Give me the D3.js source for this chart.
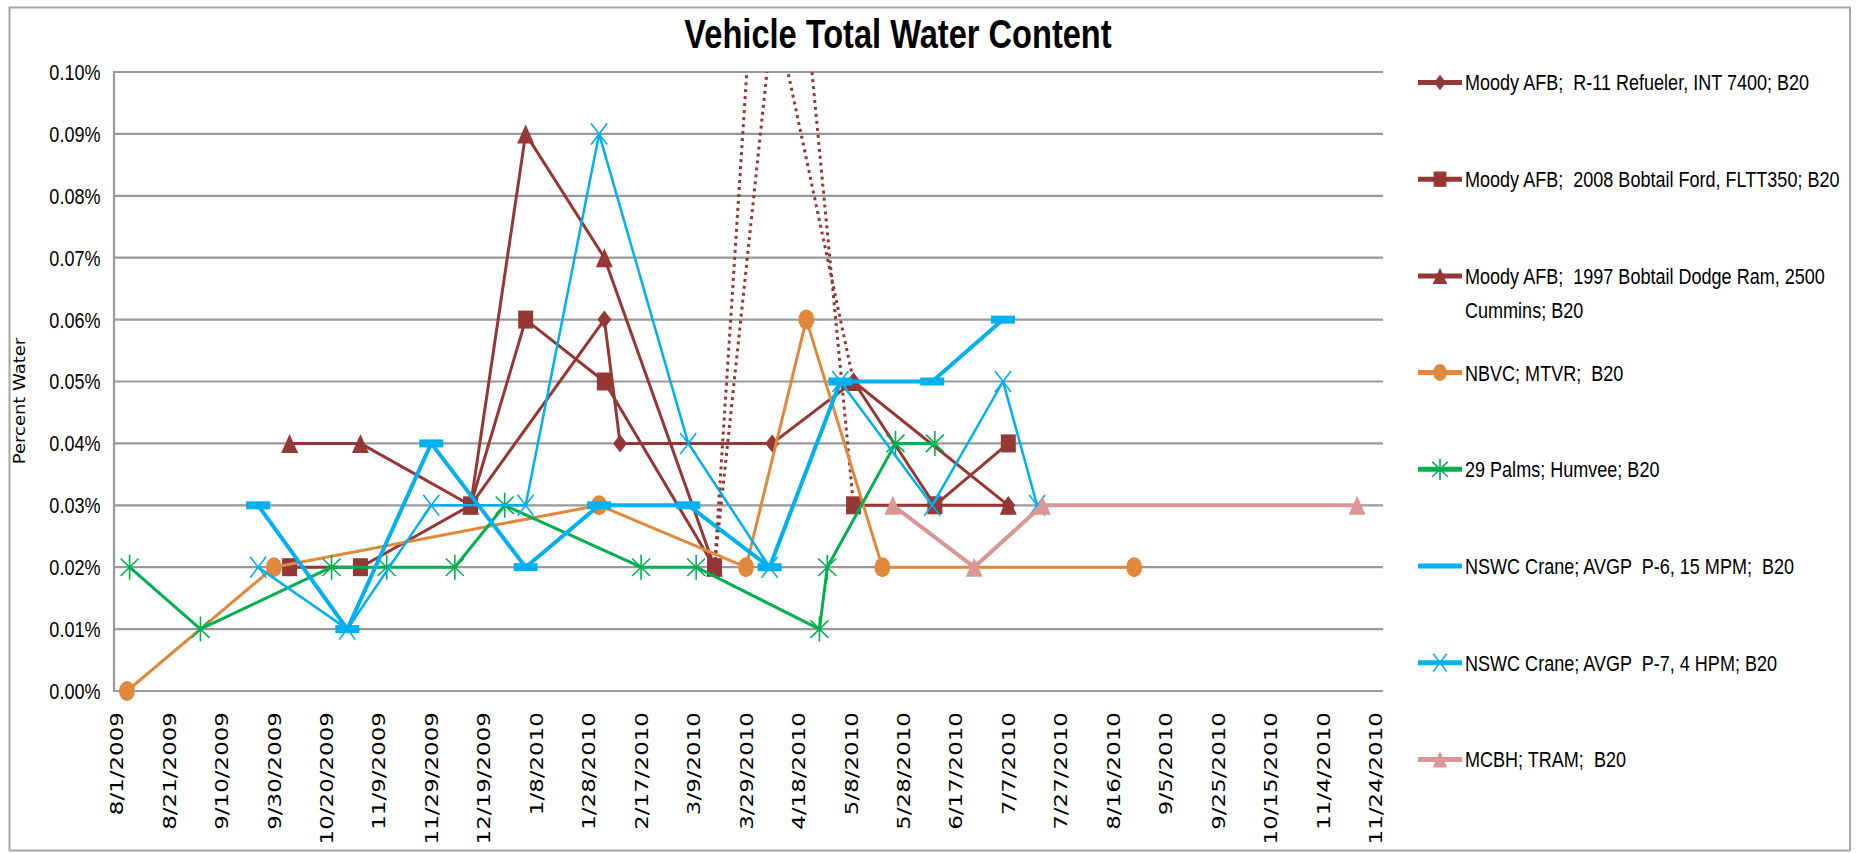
<!DOCTYPE html>
<html>
<head>
<meta charset="utf-8">
<title>Vehicle Total Water Content</title>
<script src="https://d3js.org/d3.v7.min.js"></script>
<style>
  body { margin: 0; background: #fff; }
  text { font-family: "Liberation Sans", Arial, sans-serif; white-space: pre; fill: #000; }
</style>
</head>
<body>
<script>
// ---- data (values in percent water) ----
var seriesNames = [
  "Moody AFB;  R-11 Refueler, INT 7400; B20",
  "Moody AFB;  2008 Bobtail Ford, FLTT350; B20",
  "Moody AFB;  1997 Bobtail Dodge Ram, 2500\nCummins; B20",
  "NBVC; MTVR;  B20",
  "29 Palms; Humvee; B20",
  "NSWC Crane; AVGP  P-6, 15 MPM;  B20",
  "NSWC Crane; AVGP  P-7, 4 HPM; B20",
  "MCBH; TRAM;  B20"
];

var r11Dates  = ["12/14/2009","2/3/2010","2/9/2010","4/8/2010","5/9/2010","6/9/2010","7/7/2010"];
var r11Values = [0.03, 0.06, 0.04, 0.04, 0.05, 0.03, 0.03];

var fordDates  = ["10/6/2009","11/2/2009","12/14/2009","1/4/2010","2/3/2010","3/17/2010","4/15/2010","5/9/2010","6/9/2010","7/7/2010"];
var fordValues = [0.02, 0.02, 0.03, 0.06, 0.05, 0.02, 0.136, 0.03, 0.03, 0.04];

var dodgeDates  = ["10/6/2009","11/2/2009","12/14/2009","1/4/2010","2/3/2010","3/17/2010","4/2/2010","5/9/2010","7/7/2010"];
var dodgeValues = [0.04, 0.04, 0.03, 0.09, 0.07, 0.02, 0.124, 0.05, 0.03];

var nbvcDates  = ["8/5/2009","9/30/2009","2/1/2010","3/29/2010","4/21/2010","5/20/2010","8/24/2010"];
var nbvcValues = [0.00, 0.02, 0.03, 0.02, 0.06, 0.02, 0.02];

var palmsDates  = ["8/6/2009","9/2/2009","10/22/2009","11/12/2009","12/8/2009","12/27/2009","2/17/2010","3/10/2010","4/26/2010","4/29/2010","5/25/2010","6/9/2010"];
var palmsValues = [0.02, 0.01, 0.02, 0.02, 0.02, 0.03, 0.02, 0.02, 0.01, 0.02, 0.04, 0.04];

var p6Dates  = ["9/24/2009","10/28/2009","11/29/2009","1/4/2010","2/1/2010","3/7/2010","4/7/2010","5/4/2010","6/8/2010","7/5/2010"];
var p6Values = [0.03, 0.01, 0.04, 0.02, 0.03, 0.03, 0.02, 0.05, 0.05, 0.06];

var p7Dates  = ["9/24/2009","10/28/2009","11/29/2009","1/4/2010","2/1/2010","3/7/2010","4/7/2010","5/4/2010","6/8/2010","7/5/2010","7/18/2010"];
var p7Values = [0.02, 0.01, 0.03, 0.03, 0.09, 0.04, 0.02, 0.05, 0.03, 0.05, 0.03];

var mcbhDates  = ["5/24/2010","6/24/2010","7/20/2010","11/17/2010"];
var mcbhValues = [0.03, 0.02, 0.03, 0.03];

var xTickLabels = ["8/1/2009","8/21/2009","9/10/2009","9/30/2009","10/20/2009","11/9/2009","11/29/2009",
  "12/19/2009","1/8/2010","1/28/2010","2/17/2010","3/9/2010","3/29/2010","4/18/2010","5/8/2010",
  "5/28/2010","6/17/2010","7/7/2010","7/27/2010","8/16/2010","9/5/2010","9/25/2010","10/15/2010",
  "11/4/2010","11/24/2010"];
var yTicks = [0, 0.01, 0.02, 0.03, 0.04, 0.05, 0.06, 0.07, 0.08, 0.09, 0.10];

// ---- styles ----
var seriesColors  = ["#953735","#953735","#953735","#E0893C","#00B050","#00B0F0","#00B0F0","#D99694"];
var seriesMarkers = ["diamond","square","triangle","circle","star","dash","x","triangle"];
var seriesWidths  = [3, 3, 3, 3, 3, 4, 2.5, 4];
var markerSize = {diamond:[14,18], square:[15,18], triangle:[17,19], circle:[16,20], star:[18,25], dash:[24,8], x:[16,21]};

var parseDate = d3.timeParse("%m/%d/%Y");
var seriesData = [
  [r11Dates, r11Values], [fordDates, fordValues], [dodgeDates, dodgeValues], [nbvcDates, nbvcValues],
  [palmsDates, palmsValues], [p6Dates, p6Values], [p7Dates, p7Values], [mcbhDates, mcbhValues]
].map(function(s) {
  return s[0].map(function(d, i) { return {date: parseDate(d), value: s[1][i]}; });
});

var W = 1856, H = 853;
var plot = {left: 114, right: 1383, top: 72, bottom: 691};
var yMax = 0.10;
var SQUISH = 0.82;   // text in the picture is narrow

var svg = d3.select("body").append("svg").attr("width", W).attr("height", H);

svg.append("rect")
  .attr("x", 9.5).attr("y", 7.5).attr("width", 1840.5).attr("height", 843)
  .attr("fill", "#fff").attr("stroke", "#a6a6a6").attr("stroke-width", 2);

var x = d3.scaleTime()
  .domain([parseDate(xTickLabels[0]), parseDate(xTickLabels[xTickLabels.length - 1])])
  .range([116.5, 1375.5]);
var y = d3.scaleLinear().domain([0, yMax]).range([plot.bottom, plot.top]);

// gridlines
svg.append("g").selectAll("line")
  .data(yTicks).enter().append("line")
    .attr("x1", plot.left).attr("x2", plot.right)
    .attr("y1", function(d) { return y(d); })
    .attr("y2", function(d) { return y(d); })
    .attr("stroke", "#999").attr("stroke-width", 2.2);

svg.append("line")
  .attr("x1", plot.left).attr("x2", plot.left)
  .attr("y1", plot.top - 1).attr("y2", plot.bottom + 1)
  .attr("stroke", "#999").attr("stroke-width", 2.2);

// y tick labels
svg.append("g").selectAll("text")
  .data(yTicks).enter().append("text")
    .attr("transform", function(d) { return "translate(100.5," + y(d) + ") scale(" + SQUISH + ",1)"; })
    .attr("dy", "0.36em")
    .attr("text-anchor", "end")
    .style("font-size", "22px")
    .text(function(d) { return d.toFixed(2) + "%"; });

// x tick labels (rotated)
svg.append("g").selectAll("text")
  .data(xTickLabels).enter().append("text")
    .attr("transform", function(d) { return "translate(" + x(parseDate(d)) + ",712) rotate(-90) scale(1,0.8)"; })
    .attr("dy", "0.36em")
    .attr("text-anchor", "end")
    .style("font-family", "'DejaVu Sans', Verdana, sans-serif")
    .style("font-size", "23px")
    .text(function(d) { return d; });

// axis title
svg.append("text")
  .attr("transform", "translate(19,401) rotate(-90) scale(1,0.85)")
  .attr("dy", "0.36em")
  .attr("text-anchor", "middle")
  .style("font-family", "'DejaVu Sans', Verdana, sans-serif")
  .style("font-size", "18px")
  .text("Percent Water");

// title
svg.append("text")
  .attr("transform", "translate(898,48) scale(0.815,1)")
  .attr("text-anchor", "middle")
  .style("font-size", "40px").style("font-weight", "bold")
  .text("Vehicle Total Water Content");

// markers
function markerPath(type, w, h) {
  var a = w / 2, b = h / 2;
  if (type === "diamond") return "M0," + (-b) + "L" + a + ",0L0," + b + "L" + (-a) + ",0Z";
  if (type === "square" || type === "dash") return "M" + (-a) + "," + (-b) + "H" + a + "V" + b + "H" + (-a) + "Z";
  if (type === "triangle") return "M0," + (-b) + "L" + a + "," + b + "L" + (-a) + "," + b + "Z";
  if (type === "circle") return "M" + (-a) + ",0A" + a + "," + b + " 0 1,0 " + a + ",0A" + a + "," + b + " 0 1,0 " + (-a) + ",0Z";
  if (type === "x") return "M" + (-a) + "," + (-b) + "L" + a + "," + b + "M" + a + "," + (-b) + "L" + (-a) + "," + b;
  if (type === "star") return "M" + (-a) + "," + (-b * 0.7) + "L" + a + "," + (b * 0.7) + "M" + a + "," + (-b * 0.7) + "L" + (-a) + "," + (b * 0.7) + "M0," + (-b) + "V" + b;
  return "";
}
function drawMarker(g, type, color, cx, cy, k) {
  var s = markerSize[type];
  var p = g.append("path")
    .attr("transform", "translate(" + cx + "," + cy + ")")
    .attr("d", markerPath(type, s[0] * k, s[1] * k));
  if (type === "x" || type === "star") {
    p.attr("fill", "none").attr("stroke", color).attr("stroke-width", 1.6);
  } else {
    p.attr("fill", color);
  }
}

// series
var clip = svg.append("clipPath").attr("id", "plotclip");
clip.append("rect").attr("x", 0).attr("y", plot.top).attr("width", W).attr("height", H - plot.top);

var line = d3.line()
  .x(function(d) { return x(d.date); })
  .y(function(d) { return y(d.value); });

seriesData.forEach(function(pts, si) {
  var g = svg.append("g");
  var color = seriesColors[si];
  // solid runs, and dotted segments where a value is above the axis
  var solid = [], dotted = [], run = [pts[0]];
  for (var i = 1; i < pts.length; i++) {
    var a = pts[i - 1], b = pts[i];
    if (a.value > yMax || b.value > yMax) {
      if (run.length > 1) solid.push(run);
      run = [b];
      dotted.push([a, b]);
    } else {
      run.push(b);
    }
  }
  if (run.length > 1) solid.push(run);

  g.selectAll(".solid").data(solid).enter().append("path")
    .attr("class", "solid")
    .attr("d", line)
    .attr("fill", "none").attr("stroke", color)
    .attr("stroke-width", seriesWidths[si])
    .attr("stroke-linejoin", "round").attr("stroke-linecap", "round");

  g.selectAll(".dotted").data(dotted).enter().append("path")
    .attr("class", "dotted")
    .attr("clip-path", "url(#plotclip)")
    .attr("d", line)
    .attr("fill", "none").attr("stroke", color)
    .attr("stroke-width", 3)
    .attr("stroke-dasharray", "3,4");

  pts.forEach(function(d) {
    if (d.value <= yMax) drawMarker(g, seriesMarkers[si], color, x(d.date), y(d.value), 1);
  });
});

// legend
var legendTop = 82.5, legendStep = 96.7;
seriesNames.forEach(function(name, i) {
  var ly = legendTop + i * legendStep;
  var g = svg.append("g");
  g.append("line")
    .attr("x1", 1418).attr("x2", 1462).attr("y1", ly).attr("y2", ly)
    .attr("stroke", seriesColors[i]).attr("stroke-width", 5);
  if (seriesMarkers[i] !== "dash") drawMarker(g, seriesMarkers[i], seriesColors[i], 1440, ly, 0.85);
  name.split("\n").forEach(function(part, j) {
    g.append("text")
      .attr("transform", "translate(1465," + (ly + j * 34) + ") scale(" + SQUISH + ",1)")
      .attr("dy", "0.36em")
      .style("font-size", "22px")
      .text(part);
  });
});
</script>
</body>
</html>
